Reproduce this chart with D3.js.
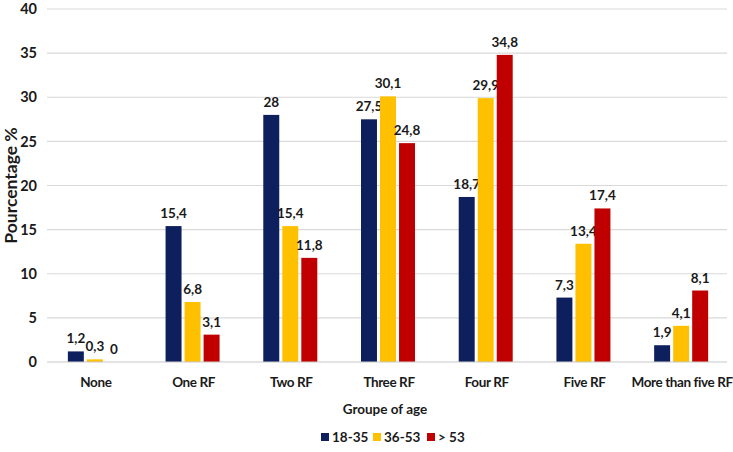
<!DOCTYPE html>
<html>
<head>
<meta charset="utf-8">
<script src="https://cdn.jsdelivr.net/npm/d3@7"></script>
<style>
  body { margin: 0; background: #fff; }
  text { font-family: Lato, "Open Sans", sans-serif; font-weight: bold; fill: #1a1a1a; }
</style>
</head>
<body>
<div id="chart"></div>
<script>
const categories = ['None', 'One RF', 'Two RF', 'Three RF', 'Four RF', 'Five RF', 'More than five RF'];
const groups = ['18-35', '36-53', '> 53'];
const values1835 = [1.2, 15.4, 28, 27.5, 18.7, 7.3, 1.9];
const values3653 = [0.3, 6.8, 15.4, 30.1, 29.9, 13.4, 4.1];
const values53 = [0, 3.1, 11.8, 24.8, 34.8, 17.4, 8.1];
const yTicks = [0, 5, 10, 15, 20, 25, 30, 35, 40];

const colors = ['#0d1f5c', '#ffc000', '#c00000'];
const series = [values1835, values3653, values53];

const width = 733, height = 452;
const margin = {top: 9, right: 2, bottom: 90, left: 47};
const innerW = width - margin.left - margin.right;
const innerH = height - margin.top - margin.bottom;

const svg = d3.select('#chart').append('svg')
  .attr('width', width).attr('height', height);
const g = svg.append('g').attr('transform', `translate(${margin.left},${margin.top})`);

const x = d3.scaleBand().domain(categories).range([0, innerW]);
const x1 = d3.scaleBand().domain(groups).range([x.bandwidth() / 2 - 28, x.bandwidth() / 2 + 26]).paddingInner(0.16);
const y = d3.scaleLinear().domain([0, 40]).range([innerH, 0]);

// gridlines
g.append('g')
  .selectAll('line').data(yTicks.filter(d => d > 0)).join('line')
  .attr('x1', 0).attr('x2', innerW - 4)
  .attr('y1', d => y(d)).attr('y2', d => y(d))
  .attr('stroke', '#d9d9d9').attr('stroke-width', 1.2);

// y axis labels
const yAxis = g.append('g').call(d3.axisLeft(y).tickValues(yTicks).tickSize(0).tickPadding(10));
yAxis.select('.domain').remove();
yAxis.selectAll('text').attr('font-size', 14.5).style('font-family', 'Lato, sans-serif').style('font-weight', 'bold').attr('fill', '#1a1a1a');

// bars
groups.forEach((grp, i) => {
  const vals = series[i];
  g.append('g').selectAll('rect').data(categories).join('rect')
    .attr('x', (c) => x(c) + x1(grp))
    .attr('y', (c, j) => y(vals[j]))
    .attr('width', x1.bandwidth())
    .attr('height', (c, j) => innerH - y(vals[j]))
    .attr('fill', colors[i]);
  g.append('g').selectAll('text').data(categories).join('text')
    .attr('x', (c) => x(c) + x1(grp) + x1.bandwidth() / 2)
    .attr('y', (c, j) => y(vals[j]) - 8)
    .attr('text-anchor', 'middle')
    .attr('font-size', 13.5)
    .text((c, j) => String(vals[j]).replace('.', ','));
});

// x axis line
g.append('line').attr('x1', 0).attr('x2', innerW - 4).attr('y1', innerH).attr('y2', innerH)
  .attr('stroke', '#c8c8c8').attr('stroke-width', 1.2);

const xAxis = g.append('g').attr('transform', `translate(0,${innerH})`)
  .call(d3.axisBottom(x).tickSize(0).tickPadding(15));
xAxis.select('.domain').remove();
xAxis.selectAll('text').attr('font-size', 13.5).attr('letter-spacing', -0.4)
  .style('font-family', 'Lato, sans-serif').style('font-weight', 'bold').attr('fill', '#1a1a1a');

// axis titles
svg.append('text')
  .attr('transform', `translate(17,${margin.top + innerH / 2}) rotate(-90)`)
  .attr('text-anchor', 'middle').attr('font-size', 17.5)
  .text('Pourcentage %');

svg.append('text')
  .attr('x', 385).attr('y', 414)
  .attr('text-anchor', 'middle').attr('font-size', 13.5)
  .text('Groupe of age');

// legend
const legend = svg.append('g').attr('transform', 'translate(321,437)');
const legendX = [0, 52, 106];
groups.forEach((grp, i) => {
  legend.append('rect').attr('x', legendX[i]).attr('y', -4).attr('width', 8).attr('height', 8).attr('fill', colors[i]);
  legend.append('text').attr('x', legendX[i] + 11).attr('y', 0).attr('dy', '0.35em')
    .attr('font-size', 13.5).text(grp);
});
</script>
</body>
</html>
